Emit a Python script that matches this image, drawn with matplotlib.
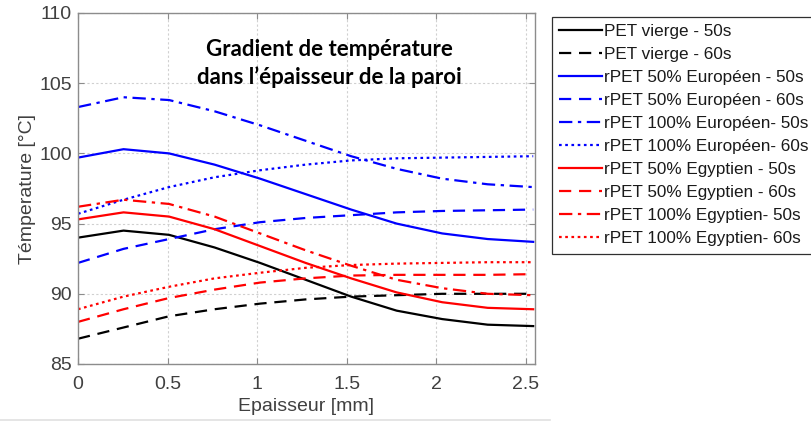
import numpy as np
import matplotlib
matplotlib.use("Agg")
import matplotlib.pyplot as plt
from matplotlib.lines import Line2D

# Wall thickness positions (mm)
epaisseur = [0.0, 0.254, 0.508, 0.762, 1.016, 1.270, 1.524, 1.778, 2.032, 2.286, 2.540]

# Temperature profiles (°C)
pet_vierge_50 = [94.0, 94.5, 94.2, 93.3, 92.2, 91.0, 89.8, 88.8, 88.2, 87.8, 87.7]
pet_vierge_60 = [86.8, 87.6, 88.4, 88.9, 89.3, 89.6, 89.8, 89.9, 90.0, 90.0, 90.0]
rpet50_eu_50 = [99.7, 100.3, 100.0, 99.2, 98.2, 97.1, 96.0, 95.0, 94.3, 93.9, 93.7]
rpet50_eu_60 = [92.2, 93.2, 93.9, 94.6, 95.1, 95.4, 95.6, 95.8, 95.9, 95.95, 96.0]
rpet100_eu_50 = [103.3, 104.0, 103.8, 103.0, 102.0, 100.9, 99.8, 98.9, 98.2, 97.8, 97.6]
rpet100_eu_60 = [95.7, 96.7, 97.6, 98.3, 98.8, 99.2, 99.5, 99.65, 99.7, 99.75, 99.8]
rpet50_eg_50 = [95.3, 95.8, 95.5, 94.6, 93.4, 92.2, 91.1, 90.1, 89.4, 89.0, 88.9]
rpet50_eg_60 = [88.0, 88.9, 89.7, 90.3, 90.8, 91.1, 91.3, 91.35, 91.35, 91.35, 91.4]
rpet100_eg_50 = [96.2, 96.7, 96.4, 95.5, 94.3, 93.1, 92.0, 91.0, 90.4, 90.0, 89.9]
rpet100_eg_60 = [88.9, 89.8, 90.5, 91.1, 91.5, 91.85, 92.05, 92.15, 92.2, 92.25, 92.25]

labels = [
    "PET vierge - 50s",
    "PET vierge - 60s",
    "rPET 50% Européen - 50s",
    "rPET 50% Européen - 60s",
    "rPET 100% Européen- 50s",
    "rPET 100% Européen- 60s",
    "rPET 50% Egyptien - 50s",
    "rPET 50% Egyptien - 60s",
    "rPET 100% Egyptien- 50s",
    "rPET 100% Egyptien- 60s",
]
series = [pet_vierge_50, pet_vierge_60, rpet50_eu_50, rpet50_eu_60,
          rpet100_eu_50, rpet100_eu_60, rpet50_eg_50, rpet50_eg_60,
          rpet100_eg_50, rpet100_eg_60]

xticks = [0, 0.5, 1, 1.5, 2, 2.5]
xtick_labels = ["0", "0.5", "1", "1.5", "2", "2.5"]
yticks = [85, 90, 95, 100, 105, 110]

dashed = (0, (5.5, 3.5))
dashdot = (0, (6, 2.5, 1.5, 2.5))
dotted = (0, (1.2, 1.6))
styles = [
    ("black", "-"), ("black", dashed),
    ("#0000ff", "-"), ("#0000ff", dashed),
    ("#0000ff", dashdot), ("#0000ff", dotted),
    ("#ff0000", "-"), ("#ff0000", dashed),
    ("#ff0000", dashdot), ("#ff0000", dotted),
]

plt.rcParams['font.family'] = ['Liberation Sans', 'DejaVu Sans']

fig = plt.figure(figsize=(8.11, 4.21), dpi=100)
ax = fig.add_axes([78 / 811, 1 - 364 / 421, (535 - 78) / 811, (364 - 13) / 421])

handles = []
for y, (c, ls), lab in zip(series, styles, labels):
    h, = ax.plot(epaisseur, y, color=c, linestyle=ls, linewidth=1.6, label=lab)
    handles.append(h)

ax.set_xlim(0, 2.55)
ax.set_ylim(85, 110)
ax.set_xticks(xticks)
ax.set_xticklabels(xtick_labels)
ax.set_yticks(yticks)
ax.grid(True, color="#d0d0d0", linestyle=(0, (2, 2)), linewidth=0.8)
ax.set_axisbelow(True)
for s in ax.spines.values():
    s.set_color("#8c8c8c")
    s.set_linewidth(1.0)
ax.tick_params(direction="in", length=4, color="#8c8c8c", labelcolor="#404040",
               labelsize=14, top=True, right=True)
ax.tick_params(axis="x", pad=8.5)
ax.tick_params(axis="y", pad=4.5)
ax.set_xlabel("Epaisseur [mm]", fontsize=14, color="#404040", labelpad=4)
ax.set_ylabel("Témperature [°C]", fontsize=14, color="#404040", labelpad=2)

ax.text(0.551, 0.857, "Gradient de température\ndans l\u2019épaisseur de la paroi",
        transform=ax.transAxes, ha="center", va="center", fontsize=16,
        fontweight="bold", family=["Lato", "DejaVu Sans"], linespacing=1.35,
        color="black")

leg = fig.legend(handles=handles, labels=labels, loc="upper left",
                 bbox_to_anchor=(552 / 811, 1 - 17 / 421), fontsize=12.3,
                 frameon=True, fancybox=False, framealpha=1, edgecolor="#303030",
                 handlelength=2.5, handletextpad=0.1, labelspacing=0.47,
                 borderaxespad=0, borderpad=0.42, labelcolor="#1a1a1a")
leg.get_frame().set_linewidth(0.9)

# thin separator along the bottom edge
fig.add_artist(Line2D([0, 550 / 811], [1.5 / 421, 1.5 / 421], color="#e0e0e0",
                      linewidth=1.2, transform=fig.transFigure))

fig.savefig("out.png", dpi=100, facecolor="white")
